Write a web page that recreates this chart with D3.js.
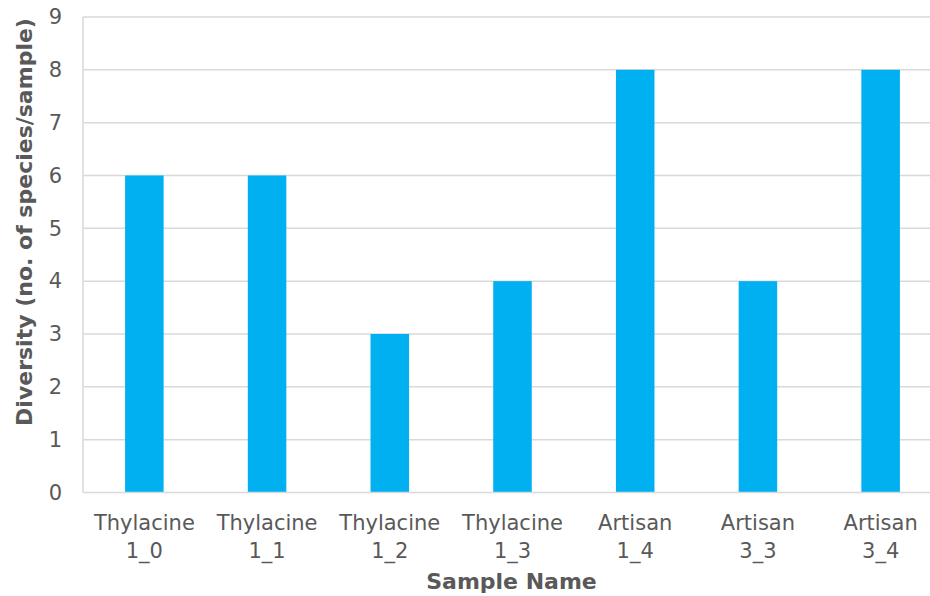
<!DOCTYPE html>
<html><head><meta charset="utf-8">
<script src="https://cdn.jsdelivr.net/npm/d3@7"></script>
<style>
html,body{margin:0;padding:0;background:#fff;}
svg{display:block;}
</style></head>
<body><svg id="c" width="930" height="596"></svg>
<script>
const categories = [["Thylacine","1_0"],["Thylacine","1_1"],["Thylacine","1_2"],["Thylacine","1_3"],["Artisan","1_4"],["Artisan","3_3"],["Artisan","3_4"]];
const values = [6, 6, 3, 4, 8, 4, 8];
const yTicks = [0,1,2,3,4,5,6,7,8,9];
const xTitle = "Sample Name";
const yTitle = "Diversity (no. of species/sample)";

(function(){
const svg = d3.select("#c");
const pL = 83, pR = 942, pT = 17, pB = 492.5;
const font = "'DejaVu Sans', Verdana, sans-serif";
const textColor = "#595959";

const x = d3.scaleBand().domain(categories.map((d,i)=>i)).range([pL,pR]).paddingInner(0.686).paddingOuter(0.343);
const y = d3.scaleLinear().domain([0,9]).range([pB, pT]);

svg.append("g").selectAll("line").data(yTicks.filter(t=>t>0)).join("line")
  .attr("x1", pL).attr("x2", pR)
  .attr("y1", d=>y(d)).attr("y2", d=>y(d))
  .attr("stroke", "#d9d9d9").attr("stroke-width", 1.5);

svg.append("g").selectAll("rect").data(values).join("rect")
  .attr("x", (d,i)=>x(i)).attr("width", x.bandwidth())
  .attr("y", d=>y(d)).attr("height", d=>y(0)-y(d))
  .attr("fill", "#00b0f0");

svg.append("line").attr("x1", pL).attr("x2", pL).attr("y1", pT).attr("y2", pB)
  .attr("stroke", "#d9d9d9").attr("stroke-width", 1.5);
svg.append("line").attr("x1", pL).attr("x2", pR).attr("y1", pB).attr("y2", pB)
  .attr("stroke", "#d9d9d9").attr("stroke-width", 1.5);

const yAxis = d3.axisLeft(y).tickValues(yTicks).tickSize(0).tickPadding(21).tickFormat(d3.format("d"));
const gy = svg.append("g").attr("transform", `translate(${pL},0)`).call(yAxis);
gy.select(".domain").remove();
gy.selectAll("text").attr("font-family", font).attr("font-size", 21).attr("fill", textColor);

const xAxis = d3.axisBottom(x).tickSize(0).tickFormat("");
const gx = svg.append("g").attr("transform", `translate(0,${pB})`).call(xAxis);
gx.select(".domain").remove();
gx.selectAll(".tick").each(function(d){
  const t = d3.select(this).append("text").attr("text-anchor","middle")
    .attr("font-family", font).attr("font-size", 21).attr("fill", textColor);
  t.append("tspan").attr("x",0).attr("y", 37.5).text(categories[d][0]);
  t.append("tspan").attr("x",0).attr("y", 65.5).text(categories[d][1]);
});

svg.append("text").attr("x", (pL+pR)/2 - 1).attr("y", 589).attr("text-anchor","middle")
  .attr("font-family", font).attr("font-weight","bold").attr("font-size", 22).attr("fill", textColor)
  .text(xTitle);
svg.append("text").attr("transform","translate(32,222) rotate(-90)").attr("text-anchor","middle")
  .attr("font-family", font).attr("font-weight","bold").attr("font-size", 22).attr("fill", textColor)
  .text(yTitle);
})();
</script></body></html>
